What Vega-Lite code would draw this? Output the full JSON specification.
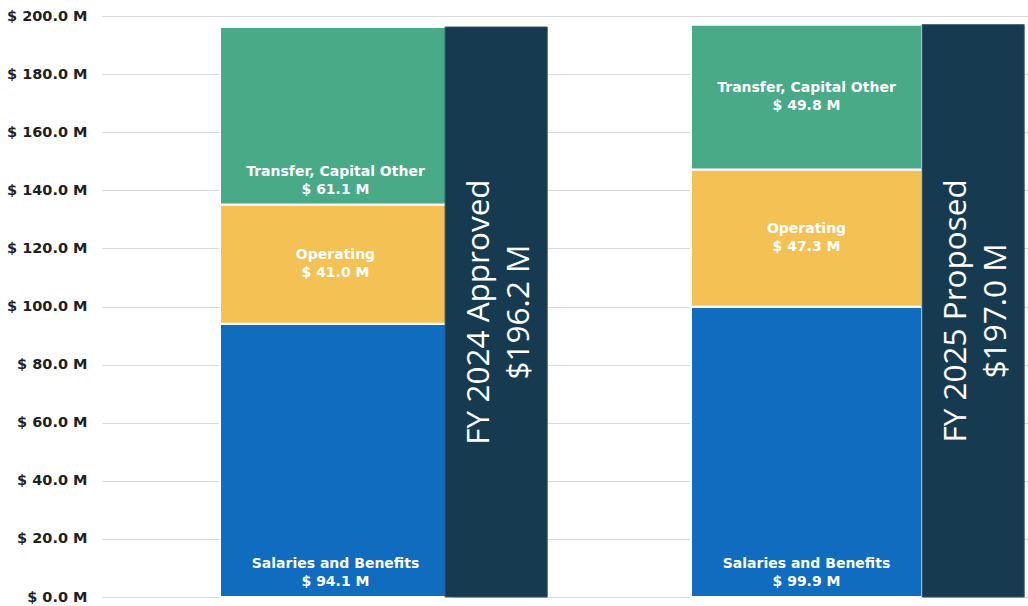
{
  "$schema": "https://vega.github.io/schema/vega-lite/v6.json",
  "width": 926,
  "height": 581,
  "padding": {"left": 102, "top": 16, "right": 0, "bottom": 9},
  "autosize": {"type": "none"},
  "background": "white",
  "config": {"view": {"stroke": null}},
  "datasets": {
    "parts": [
      {"year": "FY 2024", "segment": "Salaries and Benefits", "value": 94.1},
      {"year": "FY 2024", "segment": "Operating", "value": 41.0},
      {"year": "FY 2024", "segment": "Transfer, Capital Other", "value": 61.1},
      {"year": "FY 2025", "segment": "Salaries and Benefits", "value": 99.9},
      {"year": "FY 2025", "segment": "Operating", "value": 47.3},
      {"year": "FY 2025", "segment": "Transfer, Capital Other", "value": 49.8}
    ],
    "totals": [
      {"year": "FY 2024", "title": "FY 2024 Approved", "total": 196.2},
      {"year": "FY 2025", "title": "FY 2025 Proposed", "total": 197.0}
    ]
  },
  "layer": [
    {
      "data": {"name": "parts"},
      "transform": [
        {"calculate": "indexof(['Salaries and Benefits','Operating','Transfer, Capital Other'], datum.segment)", "as": "order"},
        {"stack": "value", "groupby": ["year"], "sort": [{"field": "order", "order": "ascending"}], "as": ["v0", "v1"]},
        {"calculate": "(datum.segment == 'Salaries and Benefits' || (datum.year == 'FY 2024' && datum.segment == 'Transfer, Capital Other')) ? datum.v0 + 8.1 : (datum.v0 + datum.v1) / 2", "as": "labelY"},
        {"calculate": "datum.segment + '\\n$ ' + format(datum.value, '.1f') + ' M'", "as": "label"}
      ],
      "encoding": {
        "x": {"field": "year", "type": "nominal", "axis": null, "scale": {"paddingInner": 0.5096, "paddingOuter": 0.2378, "align": 0.5268}}
      },
      "layer": [
        {
          "mark": {"type": "bar", "stroke": "white", "strokeWidth": 2},
          "encoding": {
            "y": {
              "field": "v1", "type": "quantitative",
              "scale": {"domain": [0, 200], "nice": false},
              "axis": {
                "values": [0, 20, 40, 60, 80, 100, 120, 140, 160, 180, 200],
                "labelExpr": "'$ ' + format(datum.value, '.1f') + ' M'",
                "title": null, "domain": false, "ticks": false, "grid": true,
                "gridColor": "#d9d9d9", "gridWidth": 1,
                "labelFont": "DejaVu Sans", "labelFontWeight": "bold", "labelFontSize": 14.5,
                "labelColor": "#1f1f1f", "labelPadding": 15
              }
            },
            "y2": {"field": "v0"},
            "color": {
              "field": "segment", "type": "nominal", "legend": null,
              "scale": {"domain": ["Salaries and Benefits", "Operating", "Transfer, Capital Other"], "range": ["#106CBE", "#F3C154", "#48AA86"]}
            }
          }
        },
        {
          "mark": {"type": "text", "font": "DejaVu Sans", "fontWeight": "bold", "fontSize": 14, "color": "white", "lineBreak": "\n", "lineHeight": 18, "baseline": "middle", "align": "center", "dy": -9},
          "encoding": {
            "y": {"field": "labelY", "type": "quantitative"},
            "text": {"field": "label", "type": "nominal"}
          }
        }
      ]
    },
    {
      "data": {"name": "totals"},
      "transform": [
        {"calculate": "datum.total / 2", "as": "mid"},
        {"calculate": "datum.title + '\\n$' + format(datum.total, '.1f') + ' M'", "as": "label"}
      ],
      "encoding": {
        "x": {"field": "year", "type": "nominal", "axis": null, "scale": {"paddingInner": 0.786, "paddingOuter": 0.3637, "align": 0.989}}
      },
      "layer": [
        {
          "mark": {"type": "bar", "color": "#163B50", "stroke": "#2E5266", "strokeWidth": 1},
          "encoding": {
            "y": {
              "field": "total", "type": "quantitative",
              "axis": {
                "values": [0, 20, 40, 60, 80, 100, 120, 140, 160, 180, 200],
                "labelExpr": "'$ ' + format(datum.value, '.1f') + ' M'",
                "title": null, "domain": false, "ticks": false, "grid": true,
                "gridColor": "#d9d9d9", "gridWidth": 1,
                "labelFont": "DejaVu Sans", "labelFontWeight": "bold", "labelFontSize": 14.5,
                "labelColor": "#1f1f1f", "labelPadding": 15
              }
            },
            "y2": {"datum": 0}
          }
        },
        {
          "mark": {"type": "text", "font": "Open Sans", "fontWeight": 400, "fontSize": 31.5, "color": "white", "angle": 270, "lineBreak": "\n", "lineHeight": 40, "baseline": "middle", "align": "center", "dy": -16},
          "encoding": {
            "y": {"field": "mid", "type": "quantitative"},
            "text": {"field": "label", "type": "nominal"}
          }
        }
      ]
    }
  ],
  "resolve": {"scale": {"x": "independent"}}
}
